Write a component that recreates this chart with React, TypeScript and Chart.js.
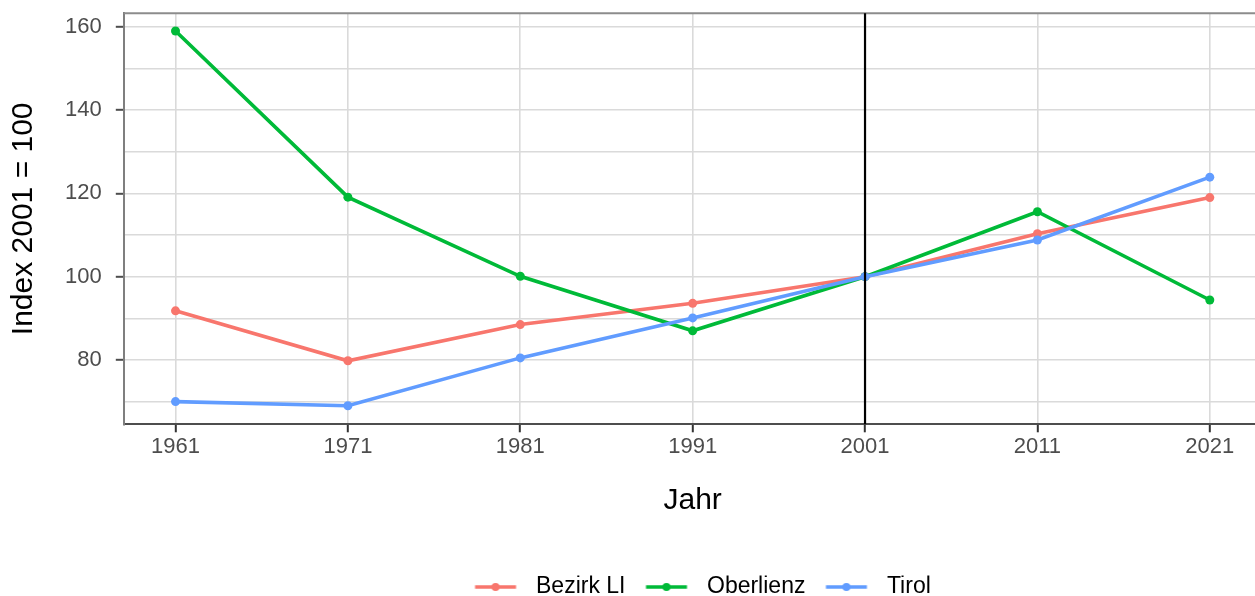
import React, { useEffect, useRef } from "react";
import { Chart, registerables } from "chart.js";

Chart.register(...registerables);

const YEARS = [1961, 1971, 1981, 1991, 2001, 2011, 2021];
const BEZIRK_LI = [91.8, 79.8, 88.5, 93.6, 100, 110.3, 119.0];
const OBERLIENZ = [159.0, 119.1, 100.1, 87.0, 100, 115.6, 94.4];
const TIROL = [70.0, 69.0, 80.5, 90.1, 100, 108.8, 123.9];
const SERIES_NAMES = ["Bezirk LI", "Oberlienz", "Tirol"];
const SERIES_VALUES = [BEZIRK_LI, OBERLIENZ, TIROL];
const SERIES_COLORS = ["#F8766D", "#00BA38", "#619CFF"];
const Y_TICKS = [70, 80, 90, 100, 110, 120, 130, 140, 150, 160];
const Y_LABEL_STEP = 20;
const X_MIN = 1958;
const X_MAX = 2024;
const Y_MIN = 64.55;
const Y_MAX = 163.25;
const REF_YEAR = 2001;
const X_TITLE = "Jahr";
const Y_TITLE = "Index 2001 = 100";

const FONT = '"Liberation Sans", Arial, Helvetica, sans-serif';

function makeLegendImage(color: string): HTMLCanvasElement {
  const c = document.createElement("canvas");
  c.width = 70;
  c.height = 12;
  const g = c.getContext("2d")!;
  g.strokeStyle = color;
  g.lineWidth = 3.5;
  g.beginPath();
  g.moveTo(20.5, 6);
  g.lineTo(61.5, 6);
  g.stroke();
  g.fillStyle = color;
  g.beginPath();
  g.arc(41, 6, 4, 0, Math.PI * 2);
  g.fill();
  return c;
}

const framePlugin = {
  id: "framePlugin",
  beforeDatasetsDraw(chart: any) {
    const { ctx, chartArea } = chart;
    ctx.save();
    ctx.strokeStyle = "#8c8c8c";
    ctx.lineWidth = 2;
    ctx.beginPath();
    ctx.moveTo(chartArea.left, chartArea.top);
    ctx.lineTo(chartArea.right, chartArea.top);
    ctx.stroke();
    ctx.restore();
  },
  afterDatasetsDraw(chart: any) {
    const { ctx, chartArea, scales } = chart;
    const x = scales.x.getPixelForValue(REF_YEAR);
    ctx.save();
    ctx.strokeStyle = "#000000";
    ctx.lineWidth = 2.2;
    ctx.beginPath();
    ctx.moveTo(x, chartArea.top);
    ctx.lineTo(x, chartArea.bottom);
    ctx.stroke();
    ctx.restore();
  },
};

export default function App() {
  const canvasRef = useRef<HTMLCanvasElement | null>(null);

  useEffect(() => {
    if (!canvasRef.current) return;
    const images = SERIES_COLORS.map((c) => makeLegendImage(c));
    const datasets = SERIES_NAMES.map((name, i) => ({
      label: name,
      data: YEARS.map((x, j) => ({ x, y: SERIES_VALUES[i][j] })),
      borderColor: SERIES_COLORS[i],
      backgroundColor: SERIES_COLORS[i],
      pointBackgroundColor: SERIES_COLORS[i],
      borderWidth: 3.6,
      pointRadius: 4.5,
      pointBorderWidth: 0,
      tension: 0,
      fill: false,
      order: SERIES_NAMES.length - i,
    }));

    const chart = new Chart(canvasRef.current, {
      type: "line",
      data: { datasets },
      plugins: [framePlugin],
      options: {
        animation: false,
        responsive: false,
        maintainAspectRatio: false,
        events: [],
        layout: { padding: { left: 6, top: 13.3, right: 0.8, bottom: -12.5 } },
        plugins: {
          tooltip: { enabled: false },
          legend: {
            position: "bottom",
            fullSize: false,
            labels: {
              usePointStyle: true,
              pointStyleWidth: 70,
              padding: 0,
              color: "#000000",
              font: { family: FONT, size: 23 },
              sort: (a: any, b: any) => a.datasetIndex - b.datasetIndex,
              generateLabels: (ch: any) => {
                const items = (Chart as any).defaults.plugins.legend.labels.generateLabels(ch);
                return items.map((it: any) => ({ ...it, pointStyle: images[it.datasetIndex] }));
              },
            },
          },
        },
        scales: {
          x: {
            type: "linear",
            min: X_MIN,
            max: X_MAX,
            afterBuildTicks: (s: any) => {
              s.ticks = YEARS.map((v) => ({ value: v }));
            },
            afterFit: (s: any) => {
              s.height = 151.2;
              s.paddingLeft = 0;
              s.paddingRight = 0;
            },
            ticks: {
              callback: (v: any) => String(v),
              color: "#4d4d4d",
              font: { family: FONT, size: 22 },
              padding: 1.5,
              maxRotation: 0,
              autoSkip: false,
            },
            grid: {
              color: "#dadada",
              lineWidth: 1.6,
              tickLength: 8,
              tickColor: "#333333",
              tickWidth: 2,
            },
            border: { display: true, color: "#4d4d4d", width: 2 },
            title: {
              display: true,
              text: X_TITLE,
              color: "#000000",
              font: { family: FONT, size: 30 },
              padding: { top: 0, bottom: 56.7 },
            },
          },
          y: {
            type: "linear",
            min: Y_MIN,
            max: Y_MAX,
            afterBuildTicks: (s: any) => {
              s.ticks = Y_TICKS.map((v) => ({ value: v }));
            },
            afterFit: (s: any) => {
              s.width = 117.8;
              s.paddingTop = 0;
              s.paddingBottom = 0;
            },
            ticks: {
              callback: (v: any) => (Number(v) % Y_LABEL_STEP === 0 ? String(v) : ""),
              color: "#4d4d4d",
              font: { family: FONT, size: 22 },
              padding: 14,
              autoSkip: false,
            },
            grid: {
              color: "#dadada",
              lineWidth: 1.6,
              tickLength: 8,
              tickColor: (c: any) =>
                c.tick && c.tick.value % Y_LABEL_STEP === 0 ? "#4d4d4d" : "rgba(0,0,0,0)",
              tickWidth: 2,
            },
            border: { display: true, color: "#7f7f7f", width: 2 },
            title: {
              display: true,
              text: Y_TITLE,
              color: "#000000",
              font: { family: FONT, size: 30 },
              padding: { top: 0, bottom: 0 },
            },
          },
        },
      } as any,
    });
    return () => chart.destroy();
  }, []);

  return (
    <div style={{ position: "fixed", left: 0, top: 0, width: 1266, height: 596, background: "#ffffff" }}>
      <canvas ref={canvasRef} width={1266} height={596} style={{ width: 1266, height: 596, display: "block" }} />
    </div>
  );
}
